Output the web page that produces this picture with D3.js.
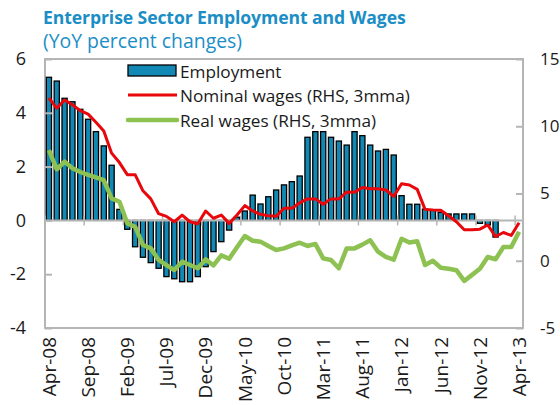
<!DOCTYPE html>
<html><head><meta charset="utf-8">
<script src="https://cdn.jsdelivr.net/npm/d3@7/dist/d3.min.js"></script>
<style>
html,body{margin:0;padding:0;background:#fff;}
svg{display:block;}
text{font-family:"Open Sans","Noto Sans",sans-serif;}
</style></head><body>
<svg id="chart" width="560" height="405"></svg>
<script>
// Monthly categories, Apr-2008 .. Apr-2013
const months = [
  "Apr-08","May-08","Jun-08","Jul-08","Aug-08","Sep-08","Oct-08","Nov-08","Dec-08","Jan-09",
  "Feb-09","Mar-09","Apr-09","May-09","Jun-09","Jul-09","Aug-09","Sep-09","Oct-09","Nov-09",
  "Dec-09","Jan-10","Feb-10","Mar-10","Apr-10","May-10","Jun-10","Jul-10","Aug-10","Sep-10",
  "Oct-10","Nov-10","Dec-10","Jan-11","Feb-11","Mar-11","Apr-11","May-11","Jun-11","Jul-11",
  "Aug-11","Sep-11","Oct-11","Nov-11","Dec-11","Jan-12","Feb-12","Mar-12","Apr-12","May-12",
  "Jun-12","Jul-12","Aug-12","Sep-12","Oct-12","Nov-12","Dec-12","Jan-13","Feb-13","Mar-13",
  "Apr-13"
];

// Employment, YoY % (left axis)
const employment = [
  5.32, 5.18, 4.54, 4.41, 4.13, 3.76, 3.30, 2.77, 2.05, 0.41,
  -0.33, -0.98, -1.37, -1.57, -1.78, -2.09, -2.17, -2.28, -2.28, -2.09,
  -1.72, -1.16, -0.79, -0.36, 0.12, 0.35, 0.94, 0.61, 0.88, 1.13,
  1.32, 1.44, 1.65, 3.09, 3.30, 3.30, 3.09, 2.95, 2.80, 3.30,
  3.15, 2.80, 2.58, 2.64, 2.43, 0.92, 0.60, 0.60, 0.42, 0.38,
  0.30, 0.24, 0.24, 0.24, 0.24, -0.11, -0.17, -0.62, null, null,
  null
];

// Nominal wages, YoY %, 3-month moving average (right axis)
const nominalWages = [
  12.1, 11.35, 11.95, 11.6, 11.16, 10.9, 10.3, 9.65, 8.0, 7.3,
  6.4, 6.4, 5.2, 4.6, 3.5, 3.3, 2.9, 3.4, 2.9, 2.75,
  3.7, 3.16, 3.4, 2.78, 3.4, 4.1, 3.7, 3.45, 3.35, 3.3,
  3.9, 3.9, 4.3, 4.6, 4.6, 4.2, 4.6, 4.6, 5.1, 5.1,
  5.45, 5.35, 5.35, 5.26, 4.78, 5.73, 5.63, 5.31, 3.82, 3.77,
  3.75, 3.35, 2.9, 2.3, 2.3, 2.35, 2.66, 1.8, 2.1, 1.88,
  2.83
];

// Real wages, YoY %, 3-month moving average (right axis)
const realWages = [
  8.23, 6.8, 7.37, 6.88, 6.6, 6.38, 6.2, 6.0, 4.64, 4.39,
  2.78, 2.53, 1.17, 0.92, 0.06, -0.32, -0.69, -0.07, -0.32, -0.56,
  0.1, -0.35, 0.4, 0.15, 1.0, 1.84, 1.49, 1.42, 1.1, 0.8,
  0.92, 1.15, 1.34, 1.1, 1.25, 0.18, 0.06, -0.56, 0.92, 0.92,
  1.2, 1.52, 0.67, 0.28, 0.08, 1.63, 1.35, 1.45, -0.32, 0.0,
  -0.52, -0.6, -0.7, -1.5, -1.05, -0.6, 0.28, 0.11, 1.02, 1.02,
  2.16
];

const leftTicks = [-4, -2, 0, 2, 4, 6];
const rightTicks = [-5, 0, 5, 10, 15];
const labelEvery = 5;

const seriesNames = ["Employment", "Nominal wages (RHS, 3mma)", "Real wages (RHS, 3mma)"];

const COL = {
  bar: "#1189b4", barEdge: "#000", nominal: "#e8070b", real: "#8dc152",
  axis: "#b5b5b5", text: "#1a1a1a", title: "#1b8ec6"
};

const svg = d3.select("#chart");
const P = {left: 45, right: 523, top: 59, bottom: 328};

const x = d3.scaleBand().domain(months).range([P.left, P.right])
  .paddingInner(0.34).paddingOuter(0.17);
const cx = m => x(m) + x.bandwidth() / 2;
const yL = d3.scaleLinear().domain([-4, 6]).range([P.bottom, P.top]);
const yR = d3.scaleLinear().domain([-5, 15]).range([P.bottom, P.top]);
const plainNum = d => String(d);   // hyphen-minus, as in the printed axis

// Title
svg.append("text").attr("x", 43).attr("y", 24)
  .attr("fill", COL.title).attr("font-weight", "bold").attr("font-size", 17.6)
  .attr("letter-spacing", -0.1)
  .text("Enterprise Sector Employment and Wages");
svg.append("text").attr("x", 43).attr("y", 48)
  .attr("fill", COL.title).attr("font-size", 19.4)
  .text("(YoY percent changes)");

// Plot frame
svg.append("rect").attr("x", P.left).attr("y", P.top)
  .attr("width", P.right - P.left).attr("height", P.bottom - P.top)
  .attr("fill", "none").attr("stroke", COL.axis).attr("stroke-width", 2);

// Employment bars
svg.append("g").selectAll("rect")
  .data(months.map((m, i) => ({m, v: employment[i]})).filter(d => d.v != null))
  .join("rect")
  .attr("x", d => x(d.m))
  .attr("width", x.bandwidth())
  .attr("y", d => yL(Math.max(0, d.v)))
  .attr("height", d => Math.abs(yL(d.v) - yL(0)))
  .attr("fill", COL.bar).attr("stroke", COL.barEdge).attr("stroke-width", 1.3);

// Category axis along zero
svg.append("line").attr("x1", P.left).attr("x2", P.right)
  .attr("y1", yL(0)).attr("y2", yL(0))
  .attr("stroke", COL.axis).attr("stroke-width", 2);
svg.append("g").selectAll("line")
  .data(months.filter((m, i) => i % labelEvery === 0))
  .join("line")
  .attr("x1", m => x(m) - x.step() * x.paddingInner() / 2)
  .attr("x2", m => x(m) - x.step() * x.paddingInner() / 2)
  .attr("y1", yL(0) - 5).attr("y2", yL(0) + 5)
  .attr("stroke", COL.axis).attr("stroke-width", 1.5);

// Left value axis
const axL = svg.append("g").attr("transform", `translate(${P.left},0)`)
  .call(d3.axisLeft(yL).tickValues(leftTicks).tickSize(-7).tickPadding(19).tickFormat(plainNum));
axL.select(".domain").remove();
axL.selectAll("line").attr("stroke", COL.axis).attr("stroke-width", 2);
axL.selectAll("text").attr("font-size", 18).attr("fill", COL.text)
  .attr("font-family", "'Open Sans','Noto Sans',sans-serif");

// Right value axis
const axR = svg.append("g").attr("transform", `translate(${P.right},0)`)
  .call(d3.axisRight(yR).tickValues(rightTicks).tickSize(-7).tickPadding(17).tickFormat(plainNum));
axR.select(".domain").remove();
axR.selectAll("line").attr("stroke", COL.axis).attr("stroke-width", 2);
axR.selectAll("text").attr("font-size", 17).attr("fill", COL.text)
  .attr("font-family", "'Open Sans','Noto Sans',sans-serif");

// Rotated month labels
svg.append("g").selectAll("text")
  .data(months.filter((m, i) => i % labelEvery === 0))
  .join("text")
  .attr("transform", m => `translate(${cx(m)},${P.bottom + 9}) rotate(-90)`)
  .attr("text-anchor", "end").attr("dy", "0.36em")
  .attr("font-size", 19).attr("fill", COL.text)
  .text(m => m);

// Wage lines
const lineR = d3.line().defined(d => d.v != null).x(d => cx(d.m)).y(d => yR(d.v));
svg.append("path")
  .datum(months.map((m, i) => ({m, v: nominalWages[i]})))
  .attr("d", lineR).attr("fill", "none")
  .attr("stroke", COL.nominal).attr("stroke-width", 3).attr("stroke-linejoin", "round");
svg.append("path")
  .datum(months.map((m, i) => ({m, v: realWages[i]})))
  .attr("d", lineR).attr("fill", "none")
  .attr("stroke", COL.real).attr("stroke-width", 4.5).attr("stroke-linejoin", "round");

// Legend
const lg = svg.append("g");
lg.append("rect").attr("x", 128).attr("y", 65).attr("width", 48).attr("height", 11)
  .attr("fill", COL.bar).attr("stroke", COL.barEdge).attr("stroke-width", 1.3);
lg.append("line").attr("x1", 128).attr("x2", 177).attr("y1", 95).attr("y2", 95)
  .attr("stroke", COL.nominal).attr("stroke-width", 3);
lg.append("line").attr("x1", 128).attr("x2", 177).attr("y1", 120).attr("y2", 120)
  .attr("stroke", COL.real).attr("stroke-width", 4.5).attr("stroke-linecap", "round");
lg.selectAll("text").data(seriesNames).join("text")
  .attr("x", 180).attr("y", (d, i) => 77.5 + i * 24.5)
  .attr("font-size", 17.2).attr("fill", COL.text)
  .text(d => d);
</script>
</body></html>
